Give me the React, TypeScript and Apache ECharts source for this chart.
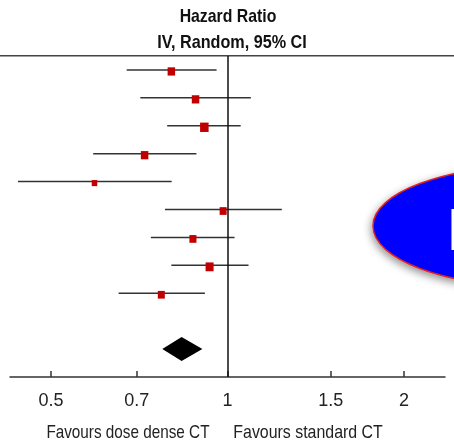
import React, { useEffect, useRef } from "react";
import * as echarts from "echarts";

const studies = ["Study 1", "Study 2", "Study 3", "Study 4", "Study 5", "Study 6", "Study 7", "Study 8", "Study 9"];
const hrEstimate = [0.802, 0.882, 0.913, 0.722, 0.593, 0.983, 0.873, 0.932, 0.771];
const ciLower = [0.673, 0.710, 0.789, 0.590, 0.439, 0.782, 0.740, 0.802, 0.652];
const ciUpper = [0.958, 1.096, 1.053, 0.885, 0.803, 1.238, 1.028, 1.086, 0.915];
const weights = [11.6, 11.6, 15.0, 11.6, 6.3, 10.2, 10.2, 13.3, 10.2];
const pooledEstimate = 0.835;
const pooledLower = 0.774;
const pooledUpper = 0.906;
const pooledRow = 10;
const tickValues = [0.5, 0.7, 1, 1.5, 2];
const axisMin = 0.4255;
const axisMax = 2.35;

const FONT = "'Liberation Sans', Arial, sans-serif";

export default function App() {
  const ref = useRef<HTMLDivElement>(null);
  useEffect(() => {
    if (!ref.current) return;
    const chart = echarts.init(ref.current, null, { renderer: "svg" });
    const rows = studies.map((_, i) => [
      Math.log(ciLower[i]),
      Math.log(ciUpper[i]),
      Math.log(hrEstimate[i]),
      i,
      weights[i],
    ]);
    const option: any = {
      animation: false,
      grid: { left: 10, right: 9, top: 56, bottom: 64 },
      xAxis: {
        type: "value",
        min: Math.log(axisMin),
        max: Math.log(axisMax),
        splitLine: { show: false },
        axisLine: { show: true, onZero: false, lineStyle: { color: "#333", width: 1.5 } },
        axisTick: {
          show: true,
          inside: true,
          length: 6,
          customValues: tickValues.map((v) => Math.log(v)),
          lineStyle: { color: "#333", width: 1.5 },
        },
        axisLabel: {
          customValues: tickValues.map((v) => Math.log(v)),
          margin: 14,
          color: "#222",
          fontSize: 18,
          fontFamily: FONT,
          formatter: (v: number) => String(Math.round(Math.exp(v) * 10) / 10),
        },
      },
      yAxis: {
        type: "value",
        inverse: true,
        min: -0.5,
        max: 11,
        show: false,
      },
      series: [
        {
          type: "custom",
          data: rows,
          encode: { x: [0, 1, 2], y: 3 },
          renderItem: (params: any, api: any) => {
            const y = api.value(3);
            const lo = api.coord([api.value(0), y]);
            const hi = api.coord([api.value(1), y]);
            const est = api.coord([api.value(2), y]);
            const s = 2.2 * Math.sqrt(api.value(4));
            return {
              type: "group",
              children: [
                {
                  type: "line",
                  shape: { x1: lo[0], y1: lo[1], x2: hi[0], y2: hi[1] },
                  style: { stroke: "#333", lineWidth: 1.5 },
                },
                {
                  type: "rect",
                  shape: { x: est[0] - s / 2, y: est[1] - s * 0.55 + 1.5, width: s, height: s * 1.1 },
                  style: { fill: "#c00000" },
                },
              ],
            };
          },
          markLine: {
            silent: true,
            symbol: "none",
            label: { show: false },
            lineStyle: { color: "#111", width: 1.5, type: "solid" },
            data: [{ xAxis: 0 }],
          },
        },
        {
          type: "custom",
          data: [[Math.log(pooledLower), Math.log(pooledUpper), Math.log(pooledEstimate), pooledRow]],
          encode: { x: [0, 1, 2], y: 3 },
          renderItem: (params: any, api: any) => {
            const y = api.value(3);
            const lo = api.coord([api.value(0), y]);
            const hi = api.coord([api.value(1), y]);
            const est = api.coord([api.value(2), y]);
            return {
              type: "polygon",
              shape: {
                points: [
                  [lo[0], lo[1]],
                  [est[0], est[1] - 12],
                  [hi[0], hi[1]],
                  [est[0], est[1] + 12],
                ],
              },
              style: { fill: "#000" },
            };
          },
        },
      ],
      graphic: [
        {
          type: "line",
          shape: { x1: 0, y1: 55.7, x2: 454, y2: 55.7 },
          style: { stroke: "#444", lineWidth: 1.5 },
        },
        {
          type: "text",
          x: 228,
          y: 16,
          scaleX: 0.88,
          style: {
            text: "Hazard Ratio",
            font: `bold 18px ${FONT}`,
            fill: "#111",
            align: "center",
            verticalAlign: "middle",
          },
        },
        {
          type: "text",
          x: 232,
          y: 42,
          scaleX: 0.9,
          style: {
            text: "IV, Random, 95% CI",
            font: `bold 18px ${FONT}`,
            fill: "#111",
            align: "center",
            verticalAlign: "middle",
          },
        },
        {
          type: "text",
          x: 209.5,
          y: 432.5,
          scaleX: 0.85,
          style: {
            text: "Favours dose dense CT",
            font: `18px ${FONT}`,
            fill: "#222",
            align: "right",
            verticalAlign: "middle",
          },
        },
        {
          type: "text",
          x: 233.3,
          y: 432.5,
          scaleX: 0.885,
          style: {
            text: "Favours standard CT",
            font: `18px ${FONT}`,
            fill: "#222",
            align: "left",
            verticalAlign: "middle",
          },
        },
        {
          type: "ellipse",
          shape: { cx: 533, cy: 226, rx: 160, ry: 60 },
          style: {
            fill: "#0000ff",
            stroke: "#e02020",
            lineWidth: 1.5,
            shadowBlur: 8,
            shadowOffsetX: -1,
            shadowOffsetY: 3,
            shadowColor: "rgba(0,0,0,0.45)",
          },
        },
        {
          type: "text",
          x: 447.5,
          y: 229,
          style: {
            text: "I",
            font: `bold 60px ${FONT}`,
            fill: "#ffffff",
            align: "left",
            verticalAlign: "middle",
          },
        },
      ],
    };
    chart.setOption(option);
    return () => chart.dispose();
  }, []);
  return <div ref={ref} style={{ width: 454, height: 441, position: "fixed", left: 0, top: 0 }} />;
}
